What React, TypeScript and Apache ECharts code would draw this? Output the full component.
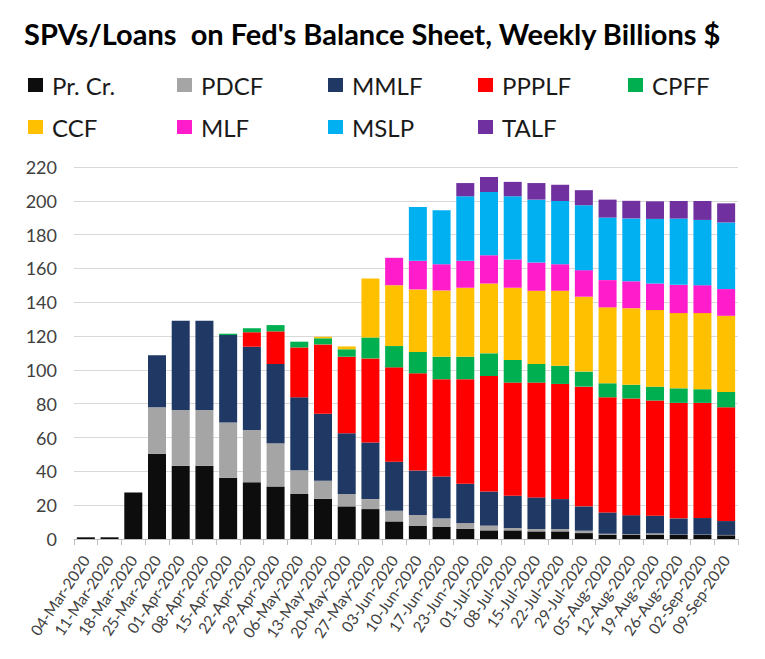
import React, { useEffect, useRef } from "react";
import * as echarts from "echarts";

const categories = [
  "04-Mar-2020", "11-Mar-2020", "18-Mar-2020", "25-Mar-2020", "01-Apr-2020", "08-Apr-2020",
  "15-Apr-2020", "22-Apr-2020", "29-Apr-2020", "06-May-2020", "13-May-2020", "20-May-2020",
  "27-May-2020", "03-Jun-2020", "10-Jun-2020", "17-Jun-2020", "23-Jun-2020", "01-Jul-2020",
  "08-Jul-2020", "15-Jul-2020", "22-Jul-2020", "29-Jul-2020", "05-Aug-2020", "12-Aug-2020",
  "19-Aug-2020", "26-Aug-2020", "02-Sep-2020", "09-Sep-2020",
];

const prCr = [1, 1, 27.5, 50.4, 43.3, 43.3, 36.2, 33.6, 31.1, 26.6, 23.8, 19.3, 17.7, 10.4, 7.9, 7.1, 6.1, 5.1, 5.1, 4.5, 4.5, 3.5, 2.6, 2.6, 2.6, 2.4, 2.4, 2.2];
const pdcf = [0, 0, 0, 27.5, 33, 33, 32.7, 30.9, 25.6, 14.1, 10.6, 7.3, 5.9, 6.3, 6.3, 5.1, 3.3, 2.8, 1.4, 1.4, 1.4, 1.4, 0.5, 0.3, 0.7, 0.2, 0.2, 0.2];
const mmlf = [0, 0, 0, 30.7, 52.8, 52.8, 51.7, 49.2, 46.8, 43.1, 39.6, 36, 33.5, 29, 26.3, 24.8, 23.3, 20.2, 19.1, 18.7, 17.7, 14.4, 12.6, 11.2, 10.5, 9.6, 9.8, 8.2];
const ppplf = [0, 0, 0, 0, 0, 0, 0, 8.5, 19.3, 29.5, 41.1, 45.2, 49.7, 55.8, 57.5, 57.5, 61.8, 68.3, 66.9, 67.9, 68.1, 70.8, 68.1, 69, 68.1, 68.3, 68.1, 67.3];
const cpff = [0, 0, 0, 0, 0, 0, 0.8, 2.4, 3.7, 3.4, 3.6, 4.4, 12.4, 12.6, 12.6, 13.3, 13.3, 13.4, 13.4, 11, 10.8, 8.9, 8.3, 8.1, 8.2, 8.6, 8.1, 9.1];
const ccf = [0, 0, 0, 0, 0, 0, 0, 0, 0, 0, 0.9, 1.7, 34.9, 36, 37, 39.2, 40.8, 41.3, 42.7, 43.3, 44.3, 44.3, 44.9, 45.3, 45.3, 44.5, 45, 45];
const mlf = [0, 0, 0, 0, 0, 0, 0, 0, 0, 0, 0, 0, 0, 16.2, 16.9, 15.5, 15.9, 16.7, 16.7, 16.7, 15.7, 15.7, 16.1, 15.9, 15.7, 16.7, 16.5, 15.8];
const mslp = [0, 0, 0, 0, 0, 0, 0, 0, 0, 0, 0, 0, 0, 0, 31.9, 31.9, 38.2, 37.4, 37.4, 37.2, 37.4, 38.4, 37, 37.2, 38.2, 39.2, 38.6, 39.4];
const talf = [0, 0, 0, 0, 0, 0, 0, 0, 0, 0, 0, 0, 0, 0, 0, 0, 7.8, 8.9, 8.5, 9.8, 9.6, 8.9, 10.6, 10.4, 10.4, 10.4, 11.2, 11.3];

const seriesNames = ["Pr. Cr.", "PDCF", "MMLF", "PPPLF", "CPFF", "CCF", "MLF", "MSLP", "TALF"];
const seriesData = [prCr, pdcf, mmlf, ppplf, cpff, ccf, mlf, mslp, talf];
const seriesColors = ["#0d0d0d", "#a5a5a5", "#1f3864", "#ff0000", "#00b050", "#ffc000", "#ff1ccb", "#00b0f0", "#7030a0"];

const legendPos = [
  [28, 73], [177, 73], [328, 73], [478, 73], [628, 73],
  [28, 115], [177, 115], [328, 115], [478, 115],
];

const FONT = "Lato, 'Open Sans', sans-serif";

export default function App() {
  const ref = useRef<HTMLDivElement>(null);
  useEffect(() => {
    if (!ref.current) return;
    const chart = echarts.init(ref.current, null, { renderer: "svg" });
    chart.setOption({
      animation: false,
      backgroundColor: "#ffffff",
      textStyle: { fontFamily: FONT },
      title: {
        text: "SPVs/Loans  on Fed's Balance Sheet, Weekly Billions $",
        left: 24,
        top: 17,
        padding: 0,
        textStyle: { fontFamily: FONT, fontSize: 29, lineHeight: 32, fontWeight: "bold", color: "#000" },
      },
      legend: seriesNames.map((n, i) => ({
        data: [n],
        left: legendPos[i][0],
        top: legendPos[i][1],
        padding: 0,
        icon: "rect",
        itemWidth: 15,
        itemHeight: 14,
        itemGap: 0,
        selectedMode: false,
        textStyle: { fontFamily: FONT, fontSize: 24, lineHeight: 24, color: "#1a1a1a", padding: [0, 0, 0, 4] },
      })),
      grid: { left: 74, right: 27, top: 167, bottom: 120, containLabel: false },
      xAxis: {
        type: "category",
        data: categories,
        axisLine: { lineStyle: { color: "#bfbfbf" } },
        axisTick: { show: true, length: 6, lineStyle: { color: "#bfbfbf" } },
        axisLabel: { rotate: 56, interval: 0, fontSize: 15.5, color: "#404040", fontFamily: FONT, margin: 18 },
      },
      yAxis: {
        type: "value",
        min: 0,
        max: 220,
        interval: 20,
        axisLine: { show: false },
        axisTick: { show: false },
        splitLine: { lineStyle: { color: "#d9d9d9" } },
        axisLabel: { fontSize: 18, color: "#404040", fontFamily: FONT, margin: 17 },
      },
      series: seriesNames.map((n, i) => ({
        name: n,
        type: "bar",
        stack: "total",
        data: seriesData[i],
        barWidth: 18,
        itemStyle: { color: seriesColors[i] },
      })),
    });
    return () => chart.dispose();
  }, []);
  return <div ref={ref} style={{ width: 765, height: 659, margin: -8 }} />;
}
